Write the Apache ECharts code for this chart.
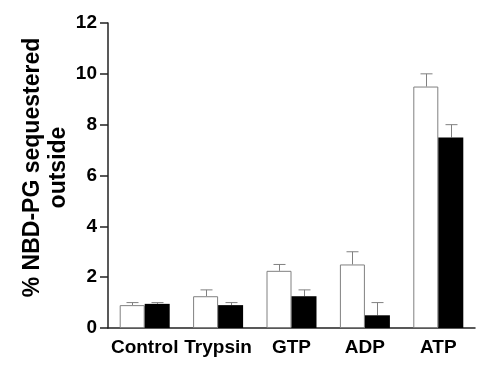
<!DOCTYPE html>
<html>
<head>
<meta charset="utf-8">
<script src="https://cdn.jsdelivr.net/npm/echarts@6/dist/echarts.min.js"></script>
<style>html,body{margin:0;padding:0;background:#fff;}#c{width:502px;height:368px;}</style>
</head>
<body>
<div id="c"></div>
<script>
var categories = ['Control', 'Trypsin', 'GTP', 'ADP', 'ATP'];
var whiteValues = [0.9, 1.25, 2.25, 2.5, 9.5];
var whiteErrTop = [1.0, 1.5, 2.5, 3.0, 10.0];
var blackValues = [0.95, 0.9, 1.25, 0.5, 7.5];
var blackErrTop = [1.0, 1.0, 1.5, 1.0, 8.0];
var yTicks = [0, 2, 4, 6, 8, 10, 12];

var chart = echarts.init(document.getElementById('c'), null, {renderer: 'canvas'});
var BW = 25;
function errSeries(vals, tops, offset) {
  return {
    type: 'custom',
    data: vals.map(function (v, i) { return [i, v, tops[i]]; }),
    z: 1,
    renderItem: function (params, api) {
      var base = api.coord([api.value(0), api.value(1)]);
      var top = api.coord([api.value(0), api.value(2)]);
      var x = Math.round(base[0] + offset) + 0.5;
      return {
        type: 'group',
        children: [
          {type: 'line', shape: {x1: x, y1: base[1], x2: x, y2: top[1]}, style: {stroke: '#808080', lineWidth: 1}},
          {type: 'line', shape: {x1: x - 6, y1: top[1], x2: x + 6, y2: top[1]}, style: {stroke: '#808080', lineWidth: 1}}
        ]
      };
    }
  };
}
var font = '"Liberation Sans", Arial, sans-serif';
chart.setOption({
  animation: false,
  backgroundColor: '#fff',
  grid: {left: 108, right: 27, top: 23, bottom: 40, containLabel: false, outerBoundsMode: 'none'},
  xAxis: {
    type: 'category',
    data: categories,
    axisLine: {lineStyle: {color: '#222', width: 1.5}},
    axisTick: {show: false},
    axisLabel: {color: '#000', fontSize: 19, fontWeight: 'bold', fontFamily: font, margin: 10, interval: 0}
  },
  yAxis: {
    type: 'value',
    min: yTicks[0], max: yTicks[yTicks.length - 1], interval: 2,
    name: '% NBD-PG sequestered\noutside',
    nameLocation: 'middle',
    nameGap: 36,
    nameMoveOverlap: false,
    nameRotate: 90,
    nameTextStyle: {color: '#000', fontSize: 23, fontWeight: 'bold', fontFamily: font, lineHeight: 26, align: 'center', padding: [0, 0, 0, 16]},
    axisLine: {show: true, lineStyle: {color: '#222', width: 1.5}},
    axisTick: {show: true, inside: false, length: 8, lineStyle: {color: '#222', width: 1.5}},
    axisLabel: {color: '#000', fontSize: 19, fontWeight: 'bold', fontFamily: font, margin: 11},
    splitLine: {show: false}
  },
  series: [
    {type: 'bar', data: whiteValues, barWidth: BW, barGap: '0%', z: 2,
     itemStyle: {color: '#fff', borderColor: '#808080', borderWidth: 1}},
    {type: 'bar', data: blackValues, barWidth: BW, barGap: '0%', z: 2,
     itemStyle: {color: '#000', borderColor: '#000', borderWidth: 0}},
    errSeries(whiteValues, whiteErrTop, -BW / 2),
    errSeries(blackValues, blackErrTop, BW / 2)
  ]
});
</script>
</body>
</html>
